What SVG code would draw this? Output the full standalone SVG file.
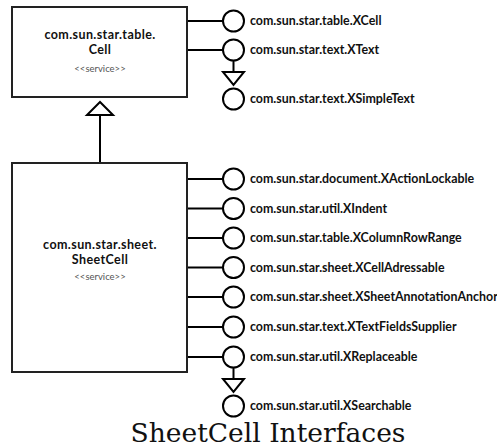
<svg xmlns="http://www.w3.org/2000/svg" width="497" height="448" viewBox="0 0 497 448">
<style>
.box{fill:#fff;stroke:#222;stroke-width:2}
.ln{stroke:#000;stroke-width:2;fill:none}
.tri{fill:#fff;stroke:#000;stroke-width:2;stroke-linejoin:miter}
.ifc{fill:#fff;stroke:#000;stroke-width:2}
.lbl{font-family:Lato,"Liberation Sans",sans-serif;font-weight:bold;font-size:12.4px;fill:#111}
.ttl{font-family:Lato,"Liberation Sans",sans-serif;font-weight:bold;font-size:12.5px;letter-spacing:0.4px;fill:#111;text-anchor:middle}
.st{font-family:Lato,"Liberation Sans",sans-serif;font-size:9.5px;fill:#555;text-anchor:middle}
.cap{font-family:"DejaVu Serif",serif;font-size:26.5px;fill:#111;text-anchor:middle}
</style>
<g id="connectors">
<line class="ln" x1="187" y1="21" x2="223" y2="21"/>
<line class="ln" x1="187" y1="50" x2="223" y2="50"/>
<line class="ln" x1="233.5" y1="60" x2="233.5" y2="72"/>
<polygon class="tri" points="223,72 244,72 233.5,85"/>
<line class="ln" x1="100" y1="163" x2="100" y2="115"/>
<polygon class="tri" points="100,102 87,115 113,115"/>
<line class="ln" x1="187" y1="179" x2="223" y2="179"/>
<line class="ln" x1="187" y1="208.5" x2="223" y2="208.5"/>
<line class="ln" x1="187" y1="238" x2="223" y2="238"/>
<line class="ln" x1="187" y1="267.5" x2="223" y2="267.5"/>
<line class="ln" x1="187" y1="297" x2="223" y2="297"/>
<line class="ln" x1="187" y1="327" x2="223" y2="327"/>
<line class="ln" x1="187" y1="357" x2="223" y2="357"/>
<line class="ln" x1="233.5" y1="367" x2="233.5" y2="379"/>
<polygon class="tri" points="223,379 244,379 233.5,392"/>
</g>
<g id="cell">
<rect class="box" x="12" y="7" width="175" height="90"/>
<text class="ttl" x="100" y="39">com.sun.star.table.</text>
<text class="ttl" x="100" y="54">Cell</text>
<text class="st" x="100" y="72">&lt;&lt;service&gt;&gt;</text>
</g>
<g id="sheetcell">
<rect class="box" x="12" y="163" width="175" height="209"/>
<text class="ttl" x="100" y="249">com.sun.star.sheet.</text>
<text class="ttl" x="100" y="264">SheetCell</text>
<text class="st" x="100" y="280">&lt;&lt;service&gt;&gt;</text>
</g>
<g id="XCell"><circle class="ifc" cx="233.5" cy="21" r="10.5"/><text class="lbl" x="250" y="25">com.sun.star.table.XCell</text></g>
<g id="XText"><circle class="ifc" cx="233.5" cy="50" r="10.5"/><text class="lbl" x="250" y="54">com.sun.star.text.XText</text></g>
<g id="XSimpleText"><circle class="ifc" cx="233.5" cy="99" r="10.5"/><text class="lbl" x="250" y="103">com.sun.star.text.XSimpleText</text></g>
<g id="XActionLockable"><circle class="ifc" cx="233.5" cy="179" r="10.5"/><text class="lbl" x="250" y="183">com.sun.star.document.XActionLockable</text></g>
<g id="XIndent"><circle class="ifc" cx="233.5" cy="208.5" r="10.5"/><text class="lbl" x="250" y="212.5">com.sun.star.util.XIndent</text></g>
<g id="XColumnRowRange"><circle class="ifc" cx="233.5" cy="238" r="10.5"/><text class="lbl" x="250" y="242">com.sun.star.table.XColumnRowRange</text></g>
<g id="XCellAdressable"><circle class="ifc" cx="233.5" cy="267.5" r="10.5"/><text class="lbl" x="250" y="271.5">com.sun.star.sheet.XCellAdressable</text></g>
<g id="XSheetAnnotationAnchor"><circle class="ifc" cx="233.5" cy="297" r="10.5"/><text class="lbl" x="250" y="301">com.sun.star.sheet.XSheetAnnotationAnchor</text></g>
<g id="XTextFieldsSupplier"><circle class="ifc" cx="233.5" cy="327" r="10.5"/><text class="lbl" x="250" y="331">com.sun.star.text.XTextFieldsSupplier</text></g>
<g id="XReplaceable"><circle class="ifc" cx="233.5" cy="357" r="10.5"/><text class="lbl" x="250" y="361">com.sun.star.util.XReplaceable</text></g>
<g id="XSearchable"><circle class="ifc" cx="233.5" cy="406" r="10.5"/><text class="lbl" x="250" y="410">com.sun.star.util.XSearchable</text></g>
<text class="cap" x="268" y="442">SheetCell Interfaces</text>
</svg>
